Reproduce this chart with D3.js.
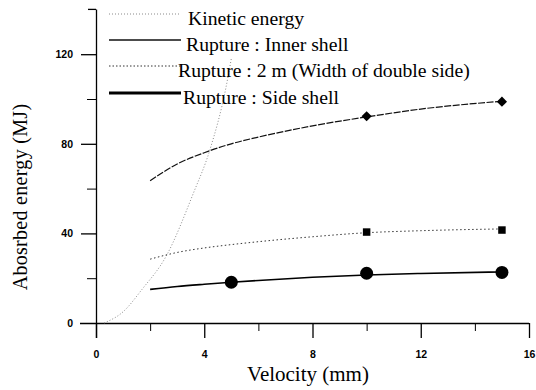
<!DOCTYPE html>
<html>
<head>
<meta charset="utf-8">
<script src="https://cdn.jsdelivr.net/npm/d3@7"></script>
<style>
  body { margin: 0; background: #fff; }
  .tick text { font-family: "Liberation Sans", Arial, sans-serif; font-weight: bold; font-size: 10.5px; }
</style>
</head>
<body>
<div id="chart"></div>
<script>
// values
const kinetic = [[0.3, 0], [1.0, 5], [1.7, 15], [2.6, 30], [3.6, 58], [4.2, 77], [4.8, 105], [5.0, 118]];
const innerShell = [[2, 63.5], [3, 71], [4, 76], [5, 80], [6, 83], [8, 88], [10, 92], [12, 95.5], [15, 99]];
const widthTwoM = [[2, 28.5], [3, 31.5], [4, 33.5], [5, 35], [6, 36.3], [8, 38.5], [10, 40.3], [12, 41.2], [15, 42]];
const sideShell = [[2, 15], [3, 16.3], [4, 17.3], [5, 18.2], [6, 19], [8, 20.4], [10, 21.4], [12, 22.1], [15, 22.8]];
const innerMarks = [[10, 92.3], [15, 98.8]];
const widthMarks = [[10, 40.6], [15, 41.5]];
const sideMarks = [[5, 18.2], [10, 22.2], [15, 22.6]];
const xTicks = [0, 4, 8, 12, 16];
const yTicks = [0, 40, 80, 120];
const legendLabels = ['Kinetic energy', 'Rupture : Inner shell', 'Rupture : 2 m (Width of double side)', 'Rupture : Side shell'];

const width = 536, height = 390;
const serif = '"Liberation Serif", "Times New Roman", serif';
const svg = d3.select('#chart').append('svg')
  .attr('width', width)
  .attr('height', height);

const x = d3.scaleLinear().domain([0, 16]).range([96, 529]);
const y = d3.scaleLinear().domain([0, 140]).range([323, 9.4]);

// axes (origin-style, offset ends)
const xAxis = d3.axisBottom(x)
  .tickValues(xTicks)
  .tickSize(15)
  .tickPadding(10)
  .tickFormat(d3.format('d'));
const gx = svg.append('g')
  .attr('transform', `translate(0,${y(0)})`)
  .call(xAxis);
gx.select('.domain').attr('d', `M80,0.5H${x(16)}`).attr('stroke-width', 1.3);
gx.selectAll('.tick line').attr('stroke-width', 1.3);
gx.selectAll('.tick text').attr('dy', '0.95em').attr('fill', '#000');

const xMinor = svg.append('g')
  .attr('transform', `translate(0,${y(0)})`)
  .call(d3.axisBottom(x).tickValues([2, 6, 10, 14]).tickSize(8).tickFormat(''));
xMinor.select('.domain').remove();

const yAxis = d3.axisLeft(y)
  .tickValues(yTicks)
  .tickSize(15)
  .tickPadding(8)
  .tickFormat(d3.format('d'));
const gy = svg.append('g')
  .attr('transform', `translate(${x(0)},0)`)
  .call(yAxis);
gy.select('.domain').attr('d', `M0.5,${y(140)}V338`).attr('stroke-width', 1.3);
gy.selectAll('.tick line').attr('stroke-width', 1.3);
gy.select('.tick line').attr('x2', 0);
gy.selectAll('.tick text').attr('fill', '#000');

const yMinor = svg.append('g')
  .attr('transform', `translate(${x(0)},0)`)
  .call(d3.axisLeft(y).tickValues([20, 60, 100]).tickSize(9).tickFormat(''));
yMinor.select('.domain').remove();

// small top cap on the y axis
svg.append('line')
  .attr('x1', x(0) - 8).attr('x2', x(0))
  .attr('y1', y(140)).attr('y2', y(140))
  .attr('stroke', '#000').attr('stroke-width', 1.3);

const line = d3.line()
  .x(d => x(d[0]))
  .y(d => y(d[1]))
  .curve(d3.curveMonotoneX);

svg.append('path').datum(kinetic)
  .attr('d', line)
  .attr('fill', 'none')
  .attr('stroke', '#8a8a8a')
  .attr('stroke-width', 1)
  .attr('stroke-dasharray', '1,2');

svg.append('path').datum(innerShell)
  .attr('d', line)
  .attr('fill', 'none')
  .attr('stroke', '#111')
  .attr('stroke-width', 1.2)
  .attr('stroke-dasharray', '7,1.5');

svg.append('path').datum(widthTwoM)
  .attr('d', line)
  .attr('fill', 'none')
  .attr('stroke', '#333')
  .attr('stroke-width', 1)
  .attr('stroke-dasharray', '1.5,2.5');

svg.append('path').datum(sideShell)
  .attr('d', line)
  .attr('fill', 'none')
  .attr('stroke', '#000')
  .attr('stroke-width', 1.6);

// markers
svg.selectAll('.diamond')
  .data(innerMarks)
  .enter()
  .append('path')
  .attr('class', 'diamond')
  .attr('transform', d => `translate(${x(d[0])},${y(d[1])}) rotate(45)`)
  .attr('d', d3.symbol().type(d3.symbolSquare).size(52));

svg.selectAll('.sq')
  .data(widthMarks)
  .enter()
  .append('path')
  .attr('class', 'sq')
  .attr('transform', d => `translate(${x(d[0])},${y(d[1])})`)
  .attr('d', d3.symbol().type(d3.symbolSquare).size(56));

svg.selectAll('.circ')
  .data(sideMarks)
  .enter()
  .append('circle')
  .attr('class', 'circ')
  .attr('cx', d => x(d[0]))
  .attr('cy', d => y(d[1]))
  .attr('r', 6.5);

// legend
const legendStyles = [
  { stroke: '#8a8a8a', w: 1, dash: '1,2', ly: 14, tx: 188 },
  { stroke: '#111', w: 1.5, dash: null, ly: 40, tx: 186 },
  { stroke: '#333', w: 1, dash: '1.5,2', ly: 66, tx: 178 },
  { stroke: '#000', w: 3.2, dash: null, ly: 93, tx: 183 }
];
const legend = svg.append('g');
legendStyles.forEach((s, i) => {
  legend.append('line')
    .attr('x1', 109).attr('x2', 181)
    .attr('y1', s.ly).attr('y2', s.ly)
    .attr('stroke', s.stroke)
    .attr('stroke-width', s.w)
    .attr('stroke-dasharray', s.dash);
  legend.append('text')
    .attr('x', s.tx).attr('y', s.ly + 10.5)
    .attr('font-family', serif)
    .attr('font-size', 19.7)
    .text(legendLabels[i]);
});

// axis titles
svg.append('text')
  .attr('x', 308).attr('y', 381)
  .attr('text-anchor', 'middle')
  .attr('font-family', serif)
  .attr('font-size', 21)
  .text('Velocity (mm)');

svg.append('text')
  .attr('transform', 'translate(27,197) rotate(-90)')
  .attr('text-anchor', 'middle')
  .attr('font-family', serif)
  .attr('font-size', 20)
  .attr('letter-spacing', 0.3)
  .text('Abosrbed energy (MJ)');
</script>
</body>
</html>
